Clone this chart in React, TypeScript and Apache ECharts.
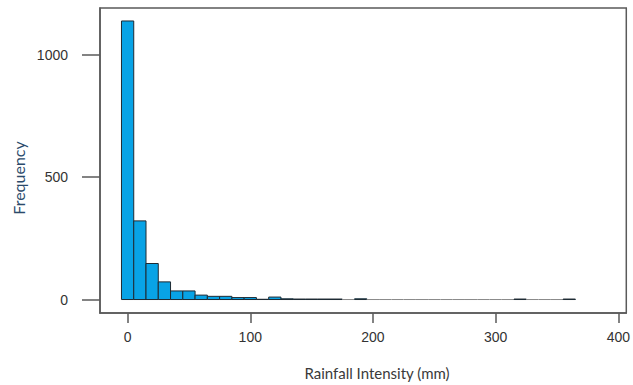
import React, { useEffect, useRef } from "react";
import * as echarts from "echarts";

// Histogram bin breaks (mm) and counts
const breaks = [
  -5, 5, 15, 25, 35, 45, 55, 65, 75, 85, 95, 105, 115, 125, 135, 145, 155, 165, 175,
  185, 195, 205, 215, 225, 235, 245, 255, 265, 275, 285, 295, 305, 315, 325, 335, 345,
  355, 365,
];
const counts = [
  1137, 321, 147, 72, 35, 35, 18, 13, 13, 8, 8, 1, 10, 3, 2, 2, 2, 2, 0, 3,
  0, 0, 0, 0, 0, 0, 0, 0, 0, 0, 0, 0, 2, 0, 0, 0, 2,
];
const xTicks = [0, 100, 200, 300, 400];
const yTicks = [0, 500, 1000];
const xTitle = "Rainfall Intensity (mm)";
const yTitle = "Frequency";

export default function App() {
  const ref = useRef<HTMLDivElement>(null);
  useEffect(() => {
    if (!ref.current) return;
    const chart = echarts.init(ref.current, undefined, { renderer: "svg" });
    const labelFont = "'Liberation Sans Narrow', 'Arial Narrow', 'Liberation Sans', Arial, sans-serif";
    const data = counts.map((c, i) => [breaks[i], breaks[i + 1], c]);
    chart.setOption({
      animation: false,
      backgroundColor: "#ffffff",
      grid: {
        show: true,
        left: 100,
        top: 8,
        width: 528,
        height: 305,
        borderColor: "#5a5a5a",
        borderWidth: 1.5,
        containLabel: false,
      },
      xAxis: {
        type: "value",
        min: -22.5,
        max: 406.5,
        splitLine: { show: false },
        axisLine: { show: true, onZero: false, lineStyle: { color: "#5a5a5a", width: 1.5 } },
        axisTick: { show: true, customValues: xTicks, length: 10, lineStyle: { color: "#5a5a5a", width: 1.5 } },
        axisLabel: {
          customValues: xTicks,
          margin: 17,
          fontSize: 14,
          color: "#333333",
          fontFamily: labelFont,
          formatter: (v: number) => String(v),
        },
      },
      yAxis: {
        type: "value",
        min: -55,
        max: 1190,
        splitLine: { show: false },
        axisLine: { show: true, onZero: false, lineStyle: { color: "#5a5a5a", width: 1.5 } },
        axisTick: { show: true, customValues: yTicks, length: 18, lineStyle: { color: "#5a5a5a", width: 1.5 } },
        axisLabel: {
          customValues: yTicks,
          margin: 32,
          fontSize: 14,
          color: "#333333",
          fontFamily: labelFont,
          formatter: (v: number) => String(v),
        },
      },
      series: [
        {
          type: "custom",
          data,
          encode: { x: [0, 1], y: 2 },
          renderItem: (params: any, api: any) => {
            const lo = api.value(0);
            const hi = api.value(1);
            const c = api.value(2);
            const p0 = api.coord([lo, c]);
            const p1 = api.coord([hi, 0]);
            if (c === 0) {
              return {
                type: "line",
                shape: { x1: p0[0], y1: p1[1], x2: p1[0], y2: p1[1] },
                style: { stroke: "#8a8a8a", lineWidth: 1 },
              };
            }
            return {
              type: "rect",
              shape: { x: p0[0], y: p0[1], width: p1[0] - p0[0], height: p1[1] - p0[1] },
              style: { fill: "#08a3e6", stroke: "#1e2a33", lineWidth: 1 },
            };
          },
        },
      ],
      graphic: [
        {
          type: "text",
          x: 377,
          y: 373,
          style: {
            text: xTitle,
            textAlign: "center",
            textVerticalAlign: "middle",
            font: "15px Lato, 'Open Sans', sans-serif",
            fill: "#3a3a3a",
          },
        },
        {
          type: "text",
          x: 18,
          y: 178,
          rotation: Math.PI / 2,
          style: {
            text: yTitle,
            textAlign: "center",
            textVerticalAlign: "middle",
            font: "16px Lato, 'Open Sans', sans-serif",
            fill: "#2b4a6b",
          },
        },
      ],
    });
    return () => chart.dispose();
  }, []);
  return (
    <div
      ref={ref}
      style={{ position: "fixed", left: 0, top: 0, width: 633, height: 385, background: "#fff" }}
    />
  );
}
